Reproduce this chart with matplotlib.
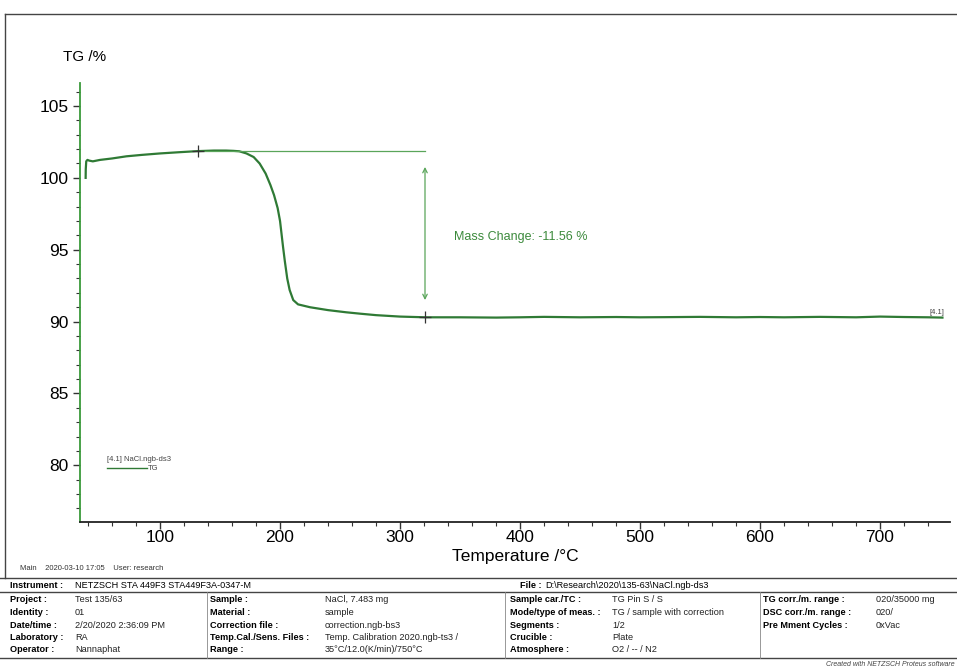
import numpy as np
import matplotlib.pyplot as plt
from matplotlib.lines import Line2D

plt.rcParams['font.family'] = ['Liberation Sans', 'DejaVu Sans']

# TG curve
temp = [38.0, 38.1, 38.5, 39.5, 41, 44, 50, 60, 72, 85, 100, 115, 131, 145, 155, 161,
        166, 172, 178, 183, 188, 192, 195, 198, 200, 202.5, 204, 206, 208, 211, 215,
        225, 240, 255, 267, 280, 300, 321, 350, 380, 400, 420, 450, 480, 500, 520,
        550, 580, 600, 620, 650, 680, 700, 720, 740, 752]
tg = [100.0, 100.6, 101.15, 101.25, 101.2, 101.15, 101.25, 101.35, 101.5, 101.6, 101.7,
      101.78, 101.86, 101.9, 101.9, 101.88, 101.85, 101.7, 101.45, 101.0, 100.3, 99.5,
      98.8, 97.9, 97.0, 95.2, 94.2, 93.0, 92.2, 91.5, 91.2, 91.0, 90.8, 90.65, 90.55,
      90.45, 90.35, 90.3, 90.3, 90.28, 90.3, 90.33, 90.3, 90.32, 90.3, 90.31, 90.33,
      90.3, 90.32, 90.3, 90.33, 90.3, 90.35, 90.32, 90.3, 90.28]

step_start = (131.7, 101.86)
step_end = (320.8, 90.30)
mass_change = -11.56

# info table
row_labels = ['Project :', 'Identity :', 'Date/time :', 'Laboratory :', 'Operator :']
row_values = ['Test 135/63', '01', '2/20/2020 2:36:09 PM', 'RA', 'Nannaphat']
col2_labels = ['Sample :', 'Material :', 'Correction file :', 'Temp.Cal./Sens. Files :', 'Range :']
col2_values = ['NaCl, 7.483 mg', 'sample', 'correction.ngb-bs3',
               'Temp. Calibration 2020.ngb-ts3 /', '35°C/12.0(K/min)/750°C']
col3_labels = ['Sample car./TC :', 'Mode/type of meas. :', 'Segments :', 'Crucible :', 'Atmosphere :']
col3_values = ['TG Pin S / S', 'TG / sample with correction', '1/2', 'Plate', 'O2 / -- / N2']
col4_labels = ['TG corr./m. range :', 'DSC corr./m. range :', 'Pre Mment Cycles :']
col4_values = ['020/35000 mg', '020/', '0xVac']

green = '#3c8a3c'
W, H = 957, 670
fig = plt.figure(figsize=(W / 100, H / 100), dpi=100)

def fx(px):
    return px / W

def fy(py):
    return 1 - py / H

ax = fig.add_axes([fx(80), fy(522), fx(950) - fx(80), fy(83) - fy(522)])
ax.plot(temp, tg, color='#2f7a35', lw=1.6)
ax.set_xlim(33.3, 758.3)
ax.set_ylim(76.06, 106.6)

# step evaluation
ax.plot([step_start[0], step_end[0]], [step_start[1], step_start[1]], color='#5aa55a', lw=0.9)
ax.plot([step_start[0], step_end[0]], [step_start[1], step_end[1]], ls='none',
        marker='+', ms=9, mew=0.9, color='#333333')
ax.annotate('', xy=(step_end[0], step_end[1] + 1.2), xytext=(step_end[0], step_start[1] - 1.1),
            arrowprops=dict(arrowstyle='<->', color='#5aa55a', lw=0.9,
                            mutation_scale=8, shrinkA=0, shrinkB=0))
ax.text(345, 95.9, 'Mass Change: %.2f %%' % mass_change, color=green, fontsize=9,
        va='center', ha='left')

# small legend
ax.text(56, 80.4, '[4.1] NaCl.ngb-ds3', fontsize=5.5, color='#444444', va='center')
ax.plot([56, 89], [79.85, 79.85], color='#2f7a35', lw=1.0)
ax.text(90, 79.75, 'TG', fontsize=5.5, color='#444444', va='center')
ax.text(741, 90.62, '[4.1]', fontsize=5.5, color='#444444', va='center')

for s in ['top', 'right']:
    ax.spines[s].set_visible(False)
ax.spines['left'].set_color('#3a9a3a')
ax.spines['left'].set_linewidth(1.3)
ax.spines['bottom'].set_color('#222222')
ax.spines['bottom'].set_linewidth(1.3)

ax.set_xticks([100, 200, 300, 400, 500, 600, 700])
ax.set_xticks(np.arange(40, 760, 20), minor=True)
ax.set_yticks([80, 85, 90, 95, 100, 105])
ax.set_yticks(np.arange(77, 107, 1), minor=True)
ax.tick_params(which='major', direction='out', length=5, width=1.0, color='#333333',
               labelsize=12.5, pad=3)
ax.tick_params(axis='x', which='major', pad=1)
ax.tick_params(which='minor', direction='out', length=3, width=0.8, color='#333333')

fig.text(fx(63), fy(57), 'TG /%', fontsize=11, va='center', ha='left')
fig.text(fx(515), fy(556), 'Temperature /°C', fontsize=12.5, va='center', ha='center')
fig.text(fx(20), fy(569), 'Main    2020-03-10 17:05    User: research', fontsize=5.5,
         va='center', color='#333333')

# outer frame and table lines
line_kw = dict(color='#444444', lw=1.0, transform=fig.transFigure)
fig.add_artist(Line2D([fx(5), 1], [fy(14), fy(14)], **line_kw))
fig.add_artist(Line2D([fx(5), fx(5)], [fy(14), fy(578)], **line_kw))
fig.add_artist(Line2D([0, 1], [fy(578), fy(578)], **line_kw))
fig.add_artist(Line2D([0, 1], [fy(592), fy(592)], **line_kw))
fig.add_artist(Line2D([0, 1], [fy(658), fy(658)], **line_kw))
for vx in [207, 505, 760]:
    fig.add_artist(Line2D([fx(vx), fx(vx)], [fy(592), fy(658)], color='#888888', lw=0.6,
                          transform=fig.transFigure))

fs = 6.6
fig.text(fx(10), fy(585), 'Instrument :', fontsize=fs, fontweight='bold', va='center')
fig.text(fx(75), fy(585), 'NETZSCH STA 449F3 STA449F3A-0347-M', fontsize=fs, va='center')
fig.text(fx(520), fy(585), 'File :', fontsize=fs, fontweight='bold', va='center')
fig.text(fx(545), fy(585), 'D:\\Research\\2020\\135-63\\NaCl.ngb-ds3', fontsize=fs, va='center')

row_y = [600, 612.5, 625, 637.5, 650]
cols = [(row_labels, row_values, 10, 75), (col2_labels, col2_values, 210, 325),
        (col3_labels, col3_values, 510, 612), (col4_labels, col4_values, 763, 876)]
for labels, values, lx, vx in cols:
    for lab, val, yy in zip(labels, values, row_y):
        fig.text(fx(lx), fy(yy), lab, fontsize=fs, fontweight='bold', va='center')
        fig.text(fx(vx), fy(yy), val, fontsize=fs, va='center', color='#222222')

fig.text(fx(955), fy(665), 'Created with NETZSCH Proteus software', fontsize=5,
         style='italic', ha='right', va='center', color='#444444')

fig.savefig('out.png', dpi=100)
